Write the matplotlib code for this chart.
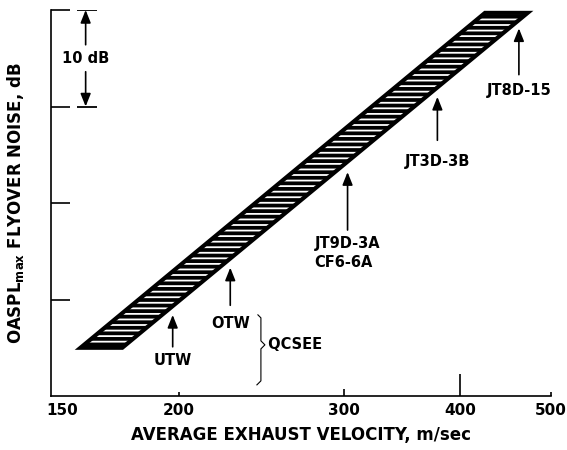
import matplotlib
matplotlib.use('Agg')
import matplotlib.pyplot as plt
from matplotlib.ticker import FixedLocator, FixedFormatter, NullLocator
from matplotlib.transforms import ScaledTranslation

# Noise band: upper-left and lower-right edges (m/sec) at two levels (dB, relative)
band_left_v = [157, 425]
band_right_v = [174, 472]
band_level = [5.0, 39.7]

# Engines marked below the band
engines = ['UTW', 'OTW', 'JT9D-3A\nCF6-6A', 'JT3D-3B', 'JT8D-15']
engine_v = [197, 227, 303, 378, 462]
arrow_tip = [8.4, 13.3, 23.2, 31.0, 38.1]
arrow_tail = [5.1, 9.4, 17.2, 26.5, 33.3]
label_top = [4.5, 8.3, 16.6, 25.1, 32.4]

xticks = [150, 200, 300, 400, 500]
xtick_len = [0, 3, 5, 16, 3]
yticks = [10, 20, 30, 40]

plt.rcParams['font.family'] = 'DejaVu Sans'
plt.rcParams['font.weight'] = 'bold'
plt.rcParams['axes.labelweight'] = 'bold'
plt.rcParams['hatch.linewidth'] = 1.3

fig = plt.figure(figsize=(5.67, 4.5), dpi=100)
ax = fig.add_axes([51 / 567, 54 / 450, 500 / 567, 386 / 450])
ax.set_xscale('log')
ax.set_xlim(146, 500)
ax.set_ylim(0, 40)

# black band with white stripes and a heavy outline
bx = [band_left_v[0], band_left_v[1], band_right_v[1], band_right_v[0]]
by = [band_level[0], band_level[1], band_level[1], band_level[0]]
ax.fill(bx, by, facecolor='black', edgecolor='black', lw=0)
ax.fill(bx, by, facecolor='none', edgecolor='white', hatch='---', lw=0)
ax.fill(bx, by, fill=False, edgecolor='black', lw=3.0, joinstyle='miter')

arrow = dict(arrowstyle='-|>,head_length=0.55,head_width=0.22',
             color='black', lw=1.2, mutation_scale=14, shrinkA=0, shrinkB=0)
for name, v, tip, tail, ly in zip(engines, engine_v, arrow_tip, arrow_tail, label_top):
    ax.annotate('', xy=(v, tip), xytext=(v, tail), arrowprops=arrow)
    ax.text(v, ly, name, ha='center', va='top', fontsize=10.5,
            multialignment='left', linespacing=1.35)

# QCSEE brace drawn in inches around its anchor point
brace_v, brace_y = 246, 5.3
brace_x = [-0.05, -0.02, -0.02, 0.02, -0.02, -0.02, -0.06]
brace_yy = [0.30, 0.27, 0.04, 0.0, -0.04, -0.36, -0.40]
tr = fig.dpi_scale_trans + ScaledTranslation(brace_v, brace_y, ax.transData)
ax.plot(brace_x, brace_yy, color='black', lw=0.8, transform=tr, clip_on=False)
ax.text(brace_v, brace_y, ' QCSEE', ha='left', va='center', fontsize=10.5)

# 10 dB scale marker
ax.hlines([30, 40], 155.5, 163.5, color='black', lw=1.3)
ax.annotate('', xy=(159, 40), xytext=(159, 36.4), arrowprops=arrow)
ax.annotate('', xy=(159, 30), xytext=(159, 33.6), arrowprops=arrow)
ax.text(159, 35.0, '10 dB', ha='center', va='center', fontsize=10.5)

for side in ['top', 'right']:
    ax.spines[side].set_visible(False)
for side in ['left', 'bottom']:
    ax.spines[side].set_linewidth(1.2)

ax.xaxis.set_major_locator(FixedLocator(xticks))
ax.xaxis.set_major_formatter(FixedFormatter([str(t) for t in xticks]))
ax.xaxis.set_minor_locator(NullLocator())
ax.tick_params(axis='x', direction='in', width=1.2, labelsize=11, pad=5)
for tick, n in zip(ax.xaxis.get_major_ticks(), xtick_len):
    tick.tick1line.set_markersize(n)

ax.yaxis.set_major_locator(FixedLocator(yticks))
ax.yaxis.set_minor_locator(NullLocator())
ax.tick_params(axis='y', direction='in', length=14, width=1.2, labelleft=False)

ax.set_xlabel('AVERAGE EXHAUST VELOCITY, m/sec', fontsize=12, labelpad=6)
ax.set_ylabel('OASPL$_{\\mathregular{max}}$ FLYOVER NOISE, dB', fontsize=12)
ax.yaxis.set_label_coords(-0.05, 0.5)

fig.savefig('out.png', dpi=100)
